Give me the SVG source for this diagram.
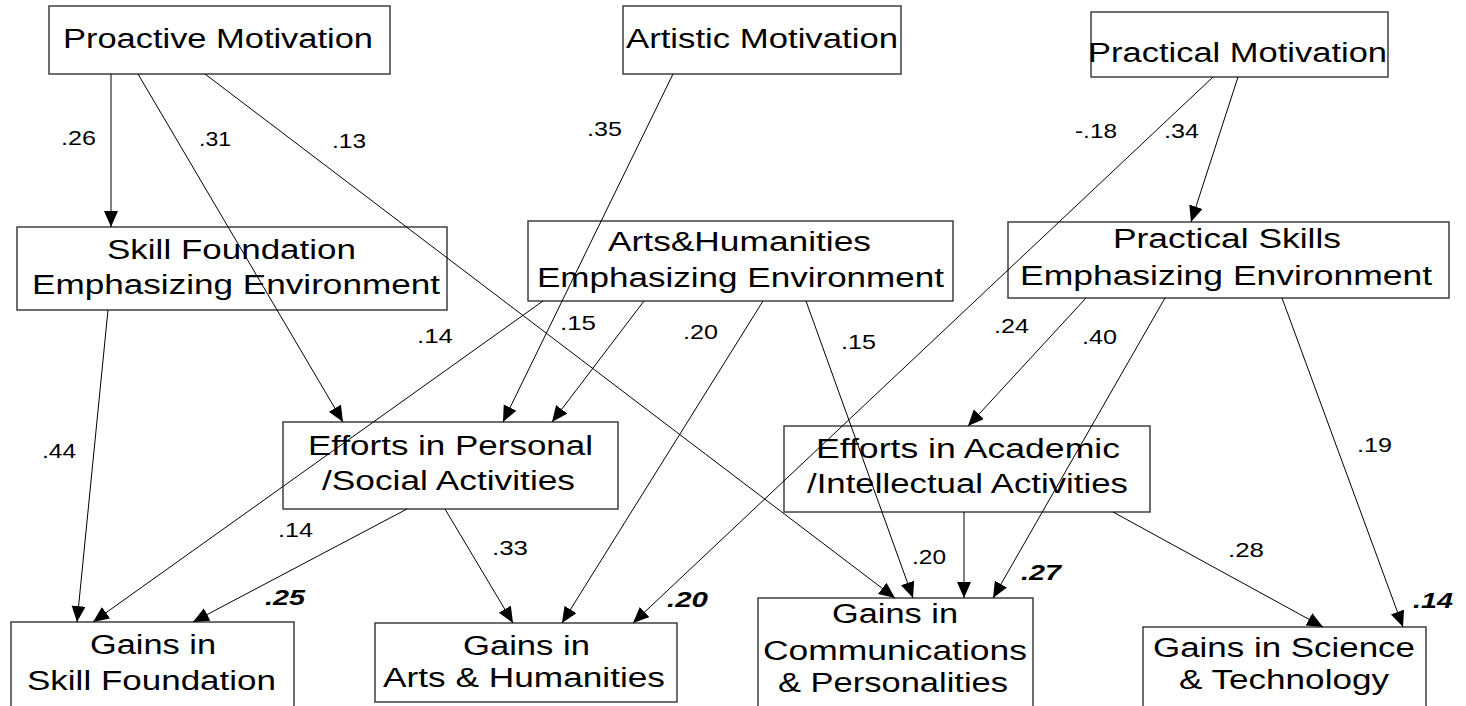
<svg xmlns="http://www.w3.org/2000/svg" width="1466" height="706" viewBox="0 0 1466 706">
<defs>
<marker id="ah" markerUnits="userSpaceOnUse" markerWidth="17" markerHeight="15" refX="16" refY="7" orient="auto">
<path d="M0,0 L16,7 L0,14 z" fill="#000"/>
</marker>
<style>
.box{fill:#fff;stroke:#333;stroke-width:1.4}
.t{font-family:"Liberation Sans",Arial,sans-serif;font-size:27px;fill:#000}
.c line{stroke:#000;stroke-width:1;marker-end:url(#ah)}
.l{font-family:"Liberation Sans",Arial,sans-serif;font-size:21px;fill:#000}
.r{font-family:"Liberation Sans",Arial,sans-serif;font-size:22px;font-weight:bold;font-style:italic;fill:#000}
</style>
</defs>
<rect width="1466" height="706" fill="#fff"/>

<g id="n-proactive"><rect class="box" x="49" y="6" width="341" height="68"/><text class="t" x="63" y="48" textLength="310" lengthAdjust="spacingAndGlyphs">Proactive Motivation</text></g>
<g id="n-artistic"><rect class="box" x="623" y="6" width="278" height="68"/><text class="t" x="626" y="48" textLength="272" lengthAdjust="spacingAndGlyphs">Artistic Motivation</text></g>
<g id="n-practical"><rect class="box" x="1091" y="12" width="297" height="65"/><text class="t" x="1088" y="62" textLength="299" lengthAdjust="spacingAndGlyphs">Practical Motivation</text></g>

<g id="n-sfenv"><rect class="box" x="17" y="227" width="430" height="83"/><text class="t" x="107" y="259" textLength="249" lengthAdjust="spacingAndGlyphs">Skill Foundation</text><text class="t" x="32" y="294" textLength="408" lengthAdjust="spacingAndGlyphs">Emphasizing Environment</text></g>
<g id="n-ahenv"><rect class="box" x="528" y="221" width="425" height="80"/><text class="t" x="608" y="251" textLength="263" lengthAdjust="spacingAndGlyphs">Arts&amp;Humanities</text><text class="t" x="537" y="287" textLength="407" lengthAdjust="spacingAndGlyphs">Emphasizing Environment</text></g>
<g id="n-psenv"><rect class="box" x="1008" y="222" width="441" height="76"/><text class="t" x="1113" y="248" textLength="228" lengthAdjust="spacingAndGlyphs">Practical Skills</text><text class="t" x="1020" y="285" textLength="412" lengthAdjust="spacingAndGlyphs">Emphasizing Environment</text></g>

<g id="n-effpers"><rect class="box" x="283" y="422" width="335" height="87"/><text class="t" x="308" y="455" textLength="285" lengthAdjust="spacingAndGlyphs">Efforts in Personal</text><text class="t" x="322" y="490" textLength="253" lengthAdjust="spacingAndGlyphs">/Social Activities</text></g>
<g id="n-effacad"><rect class="box" x="784" y="426" width="366" height="86"/><text class="t" x="816" y="458" textLength="304" lengthAdjust="spacingAndGlyphs">Efforts in Academic</text><text class="t" x="807" y="493" textLength="321" lengthAdjust="spacingAndGlyphs">/Intellectual Activities</text></g>

<g id="n-gsf"><rect class="box" x="11" y="622" width="283" height="100"/><text class="t" x="90" y="654" textLength="126" lengthAdjust="spacingAndGlyphs">Gains in</text><text class="t" x="27" y="690" textLength="249" lengthAdjust="spacingAndGlyphs">Skill Foundation</text></g>
<g id="n-gah"><rect class="box" x="375" y="623" width="302" height="79"/><text class="t" x="463" y="655" textLength="127" lengthAdjust="spacingAndGlyphs">Gains in</text><text class="t" x="383" y="687" textLength="282" lengthAdjust="spacingAndGlyphs">Arts &amp; Humanities</text></g>
<g id="n-gcp"><rect class="box" x="758" y="598" width="275" height="120"/><text class="t" x="832" y="623" textLength="126" lengthAdjust="spacingAndGlyphs">Gains in</text><text class="t" x="763" y="660" textLength="264" lengthAdjust="spacingAndGlyphs">Communications</text><text class="t" x="778" y="692" textLength="230" lengthAdjust="spacingAndGlyphs">&amp; Personalities</text></g>
<g id="n-gst"><rect class="box" x="1143" y="627" width="283" height="95"/><text class="t" x="1153" y="657" textLength="262" lengthAdjust="spacingAndGlyphs">Gains in Science</text><text class="t" x="1179" y="689" textLength="210" lengthAdjust="spacingAndGlyphs">&amp; Technology</text></g>

<g id="connectors" class="c">
<line x1="111" y1="74" x2="111" y2="227"/>
<line x1="138" y1="74" x2="343" y2="422"/>
<line x1="205" y1="74" x2="895" y2="598"/>
<line x1="673" y1="74" x2="503" y2="422"/>
<line x1="1238" y1="77" x2="1191" y2="222"/>
<line x1="1213" y1="77" x2="633" y2="623"/>
<line x1="108" y1="310" x2="77" y2="622"/>
<line x1="543" y1="301" x2="93" y2="622"/>
<line x1="644" y1="301" x2="552" y2="422"/>
<line x1="763" y1="301" x2="562" y2="623"/>
<line x1="806" y1="301" x2="913" y2="598"/>
<line x1="1086" y1="298" x2="968" y2="426"/>
<line x1="1165" y1="298" x2="993" y2="598"/>
<line x1="1282" y1="298" x2="1403" y2="627"/>
<line x1="407" y1="509" x2="193" y2="622"/>
<line x1="445" y1="509" x2="513" y2="623"/>
<line x1="964" y1="512" x2="964" y2="598"/>
<line x1="1113" y1="512" x2="1323" y2="627"/>
</g>

<g id="labels">
<text class="l" x="61" y="145" textLength="35" lengthAdjust="spacingAndGlyphs">.26</text>
<text class="l" x="199" y="146" textLength="32" lengthAdjust="spacingAndGlyphs">.31</text>
<text class="l" x="332" y="148" textLength="34" lengthAdjust="spacingAndGlyphs">.13</text>
<text class="l" x="587" y="136" textLength="35" lengthAdjust="spacingAndGlyphs">.35</text>
<text class="l" x="1075" y="138" textLength="42" lengthAdjust="spacingAndGlyphs">-.18</text>
<text class="l" x="1164" y="138" textLength="35" lengthAdjust="spacingAndGlyphs">.34</text>
<text class="l" x="417" y="343" textLength="36" lengthAdjust="spacingAndGlyphs">.14</text>
<text class="l" x="42" y="458" textLength="34" lengthAdjust="spacingAndGlyphs">.44</text>
<text class="l" x="560" y="330" textLength="36" lengthAdjust="spacingAndGlyphs">.15</text>
<text class="l" x="683" y="339" textLength="35" lengthAdjust="spacingAndGlyphs">.20</text>
<text class="l" x="841" y="349" textLength="35" lengthAdjust="spacingAndGlyphs">.15</text>
<text class="l" x="994" y="333" textLength="35" lengthAdjust="spacingAndGlyphs">.24</text>
<text class="l" x="1082" y="344" textLength="35" lengthAdjust="spacingAndGlyphs">.40</text>
<text class="l" x="1357" y="452" textLength="35" lengthAdjust="spacingAndGlyphs">.19</text>
<text class="l" x="278" y="537" textLength="35" lengthAdjust="spacingAndGlyphs">.14</text>
<text class="l" x="492" y="555" textLength="36" lengthAdjust="spacingAndGlyphs">.33</text>
<text class="l" x="912" y="564" textLength="34" lengthAdjust="spacingAndGlyphs">.20</text>
<text class="l" x="1228" y="557" textLength="36" lengthAdjust="spacingAndGlyphs">.28</text>
<text class="r" x="265" y="605" textLength="40" lengthAdjust="spacingAndGlyphs">.25</text>
<text class="r" x="667" y="607" textLength="41" lengthAdjust="spacingAndGlyphs">.20</text>
<text class="r" x="1021" y="580" textLength="40" lengthAdjust="spacingAndGlyphs">.27</text>
<text class="r" x="1413" y="608" textLength="40" lengthAdjust="spacingAndGlyphs">.14</text>
</g>
</svg>
